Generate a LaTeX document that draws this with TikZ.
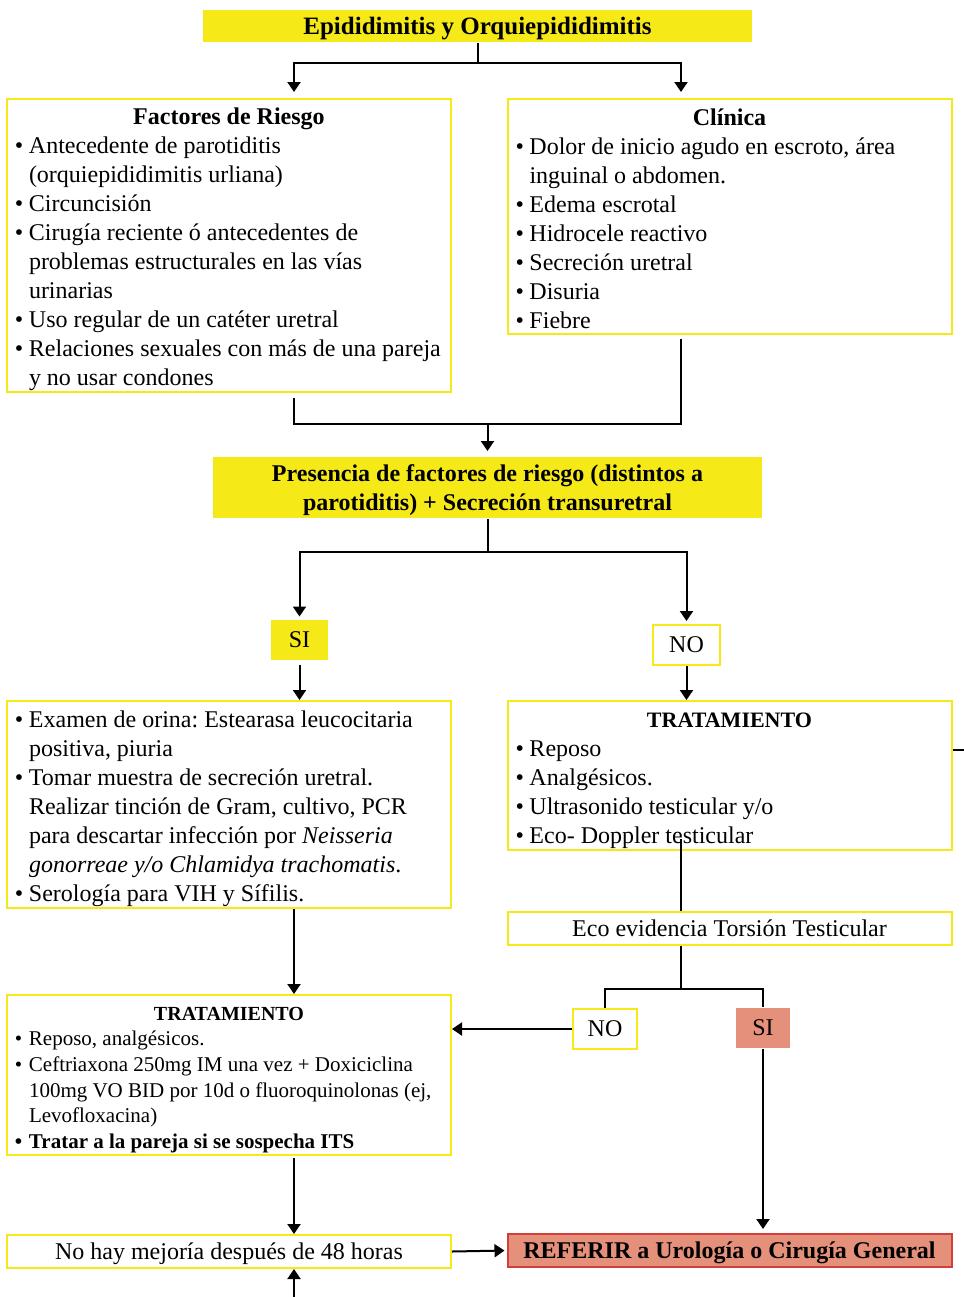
\documentclass[tikz,border=0pt]{standalone}
\usepackage{fontspec}
\setmainfont{Liberation Serif}
\frenchspacing
\usetikzlibrary{arrows.meta, positioning, calc}
\definecolor{cyellow}{HTML}{F6E918}
\definecolor{csalmon}{HTML}{E4907A}
\definecolor{cred}{HTML}{D23F3A}
\newcommand{\bl}{\hspace*{4pt}\makebox[7pt][l]{\textbullet}}
\newcommand{\cn}{\hspace*{11pt}}
\newcommand{\hd}[2][]{\hfill{#1\bfseries #2}\hfill\null\\}
\tikzset{
  every picture/.style={line width=1pt},
  box/.style={draw=#1, line width=1pt, inner xsep=0pt, inner ysep=0pt, text width=222pt},
  box/.default=cyellow,
  band/.style={fill=cyellow, align=center, inner sep=0pt, text depth=0pt, font=\fontsize{12}{14.5}\selectfont\bfseries},
  arrow/.style={-{Triangle[length=5pt, width=6.5pt]}, line width=1pt},
  link/.style={line width=1pt},
}
\begin{document}
\begin{tikzpicture}[x=0.5pt, y=-0.5pt,
    every node/.append style={font=\fontsize{12}{14.5}\selectfont},
    card/.style={box, fill=white, align=flush left, execute at begin node=\rule{0pt}{#1}},
    card/.default=13pt,
    strip/.style={box, fill=white, align=flush center, text depth=0pt, minimum height=16.5pt},
    tag/.style={inner sep=0pt, minimum height=20pt, align=center},
  ]
  \useasboundingbox (0,0) rectangle (964,1297);

  % ---- top
  \node[band, minimum width=274.5pt, minimum height=16pt, font=\fontsize{12.5}{15}\selectfont\bfseries] (title) at (477.5,26) {Epididimitis y Orquiepididimitis};
  \node[card=12.5pt, minimum height=146.5pt] (risk) at (229,245.5) {\hd{Factores de Riesgo}
    \bl Antecedente de parotiditis\\
    \cn(orquiepididimitis urliana)\\
    \bl Circuncisión\\
    \bl Cirugía reciente ó antecedentes de\\
    \cn problemas estructurales en las vías\\
    \cn urinarias\\
    \bl Uso regular de un catéter uretral\\
    \bl Relaciones sexuales con más de una pareja\\
    \cn y no usar condones};
  \node[card=11pt, minimum height=117.5pt] (clinic) at (729.5,216.5) {\hd{Clínica}
    \bl Dolor de inicio agudo en escroto, área\\
    \cn inguinal o abdomen.\\
    \bl Edema escrotal\\
    \bl Hidrocele reactivo\\
    \bl Secreción uretral\\
    \bl Disuria\\
    \bl Fiebre};
  \node[band, minimum width=274.5pt, minimum height=30.5pt] (cond) at (487.5,487.5) {Presencia de factores de riesgo (distintos a\\parotiditis) + Secreción transuretral};

  % ---- decision
  \node[tag, fill=cyellow, minimum width=28.5pt] (yes1) at (299.5,639.5) {SI};
  \node[tag, draw=cyellow, line width=1pt, minimum width=33.5pt] (no1) at (686.5,645) {NO};
  \node[card=12.5pt, minimum height=103.5pt] (labs) at (229,804.5) {\bl Examen de orina: Estearasa leucocitaria\\
    \cn positiva, piuria\\
    \bl Tomar muestra de secreción uretral.\\
    \cn Realizar tinción de Gram, cultivo, PCR\\
    \cn para descartar infección por \textit{Neisseria}\\
    \cn\textit{gonorreae y/o Chlamidya trachomatis}.\\
    \bl Serología para VIH y Sífilis.};
  \node[card=13pt, minimum height=74.5pt] (rest) at (729.5,775.5) {\hd[\fontsize{11}{14.5}\selectfont]{TRATAMIENTO}
    \bl Reposo\\
    \bl Analgésicos.\\
    \bl Ultrasonido testicular y/o\\
    \bl Eco- Doppler testicular};
  \node[strip] (echo) at (729.5,928.5) {Eco evidencia Torsión Testicular};
  \node[tag, draw=cyellow, line width=1pt, minimum width=32pt] (no2) at (605,1029) {NO};
  \node[tag, fill=csalmon, minimum width=27pt] (yes2) at (763,1028) {SI};
  \node[card=11.5pt, minimum height=80pt, font=\fontsize{10.5}{12.8}\selectfont] (treat) at (229,1075) {\hd[\fontsize{10}{12.8}\selectfont]{TRATAMIENTO}
    \bl Reposo, analgésicos.\\
    \bl Ceftriaxona 250mg IM una vez + Doxiciclina\\
    \cn 100mg VO BID por 10d o fluoroquinolonas (ej,\\
    \cn Levofloxacina)\\
    \textbf{\bl Tratar a la pareja si se sospecha ITS}};
  \node[strip] (nobetter) at (229,1251.5) {No hay mejoría después de 48 horas};
  \node[strip, box=cred, fill=csalmon, font=\fontsize{12}{14.5}\selectfont\bfseries] (refer) at (729.5,1250.5) {REFERIR a Urología o Cirugía General};

  % title to both boxes
  \draw[link] (title.south) -- ++(0,20) coordinate (split1);
  \draw[arrow, shorten >=3pt] (split1) -| ($(risk.north)+(65,0)$);
  \draw[arrow, shorten >=3pt] (split1) -| ($(clinic.north)+(-48.5,0)$);

  % join into condition
  \coordinate (join1) at ($(cond.north)+(0,-32)$);
  \draw[link, shorten <=2.5pt] ($(risk.south)+(65,0)$) |- (join1);
  \draw[link, shorten <=2pt] ($(clinic.south)+(-48.5,0)$) |- (join1);
  \draw[arrow, shorten >=2.5pt] (join1) -- (cond.north);

  % SI / NO
  \draw[link] (cond.south) -- ++(0,33) coordinate (split2);
  \draw[arrow, shorten >=1pt] (split2) -| (yes1.north);
  \draw[arrow, shorten >=1.5pt] (split2) -| (no1.north);
  \draw[arrow, shorten <=2pt] (yes1.south) -- (yes1.south |- labs.north);
  \draw[arrow] (no1.south) -- (no1.south |- rest.north);
  \draw[link] ($(rest.east)+(0,-25.5)$) -- ++(13,0) coordinate (cut1);

  % right branch
  \draw[link] ($(rest.south)+(-48.5,-12)$) -- ($(echo.north)+(-48.5,0)$);
  \draw[link] ($(echo.south)+(-48.5,0)$) -- ++(0,43) coordinate (split3);
  \draw[link] (split3) -| (no2.north);
  \draw[link] (split3) -| (yes2.north);
  \draw[arrow] (no2.west) -- (no2.west -| treat.east);
  \draw[arrow, shorten >=2pt] (yes2.south) -- (yes2.south |- refer.north);

  % left branch
  \draw[arrow] ($(labs.south)+(65,0)$) -- ($(treat.north)+(65,0)$);
  \draw[arrow, shorten <=1pt] ($(treat.south)+(65,0)$) -- ($(nobetter.north)+(65,0)$);
  \draw[arrow, shorten >=1pt] (nobetter.east) -- (refer.west);
  \coordinate (cut2) at ($(nobetter.south)+(65,30)$);
  \draw[arrow] (cut2) -- ($(nobetter.south)+(65,0)$);
\end{tikzpicture}
\end{document}
